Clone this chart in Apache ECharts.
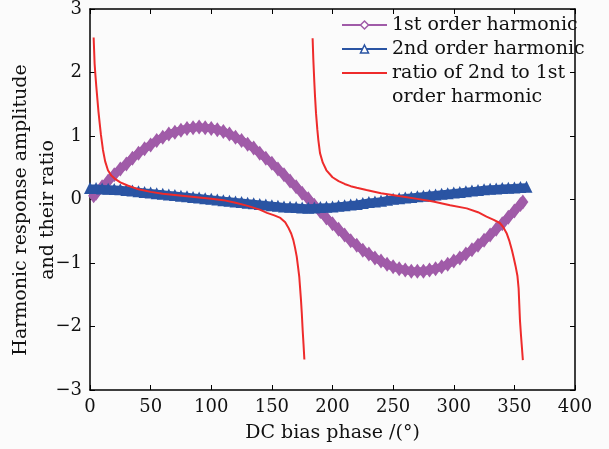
<!DOCTYPE html>
<html>
<head>
<meta charset="utf-8">
<script src="https://cdn.jsdelivr.net/npm/echarts@6/dist/echarts.min.js"></script>
<style>
  html, body { margin: 0; padding: 0; background: #fbfbfb; }
  #chart { width: 609px; height: 449px; }
</style>
</head>
<body>
<div id="chart"></div>
<script>
// tick labels
const xTicks = [0, 50, 100, 150, 200, 250, 300, 350, 400];
const yTicks = [-3, -2, -1, 0, 1, 2, 3];

// 1st order harmonic
const firstPhase = [3, 5, 10, 15, 20, 25, 30, 35, 40, 45, 50, 55, 60, 65, 70, 75, 80, 85, 90, 95,
  100, 105, 110, 115, 120, 125, 130, 135, 140, 145, 150, 155, 160, 165, 170, 175, 180, 185, 190, 195,
  200, 205, 210, 215, 220, 225, 230, 235, 240, 245, 250, 255, 260, 265, 270, 275, 280, 285, 290, 295,
  300, 305, 310, 315, 320, 325, 330, 335, 340, 345, 350, 355, 357];
const firstAmp = [0.06, 0.10, 0.20, 0.29, 0.39, 0.48, 0.56, 0.65, 0.73, 0.80, 0.86, 0.93, 0.98, 1.03, 1.06, 1.09, 1.12, 1.13, 1.14, 1.13,
  1.12, 1.10, 1.07, 1.03, 0.98, 0.93, 0.87, 0.81, 0.73, 0.65, 0.57, 0.48, 0.39, 0.29, 0.20, 0.10, 0.01, -0.09, -0.19, -0.29,
  -0.38, -0.47, -0.56, -0.65, -0.72, -0.80, -0.86, -0.92, -0.97, -1.02, -1.06, -1.09, -1.11, -1.13, -1.13, -1.13, -1.11, -1.09, -1.06, -1.02,
  -0.97, -0.92, -0.86, -0.79, -0.72, -0.64, -0.56, -0.47, -0.38, -0.28, -0.18, -0.08, -0.04];

// 2nd order harmonic
const secondPhase = [0, 5, 10, 15, 20, 25, 30, 35, 40, 45, 50, 55, 60, 65, 70, 75, 80, 85, 90, 95,
  100, 105, 110, 115, 120, 125, 130, 135, 140, 145, 150, 155, 160, 165, 170, 175, 180, 185, 190, 195,
  200, 205, 210, 215, 220, 225, 230, 235, 240, 245, 250, 255, 260, 265, 270, 275, 280, 285, 290, 295,
  300, 305, 310, 315, 320, 325, 330, 335, 340, 345, 350, 355, 360];
const secondAmp = [0.18, 0.18, 0.175, 0.17, 0.165, 0.16, 0.15, 0.14, 0.13, 0.12, 0.11, 0.10, 0.09, 0.08, 0.07, 0.06, 0.05, 0.04, 0.03, 0.02,
  0.01, 0.0, -0.01, -0.02, -0.03, -0.04, -0.05, -0.06, -0.07, -0.08, -0.09, -0.10, -0.11, -0.115, -0.12, -0.125, -0.13, -0.125, -0.12, -0.115,
  -0.11, -0.10, -0.09, -0.08, -0.07, -0.055, -0.04, -0.03, -0.02, -0.005, 0.01, 0.02, 0.03, 0.04, 0.05, 0.06, 0.07, 0.08, 0.09, 0.10,
  0.11, 0.12, 0.13, 0.14, 0.15, 0.16, 0.17, 0.175, 0.18, 0.185, 0.19, 0.195, 0.20];

// ratio of 2nd to 1st, two branches either side of 180
const ratioPhaseA = [3, 3.8, 4.5, 5.2, 6, 7, 8, 9, 10.7, 12.5, 14.8, 17.5, 20.3, 25, 31, 40, 50, 60, 70, 80,
  90, 100, 110, 120, 130, 140, 146, 152, 157, 161, 163.5, 166, 167.7, 169, 170.5, 171.5, 172.6, 173.3, 174, 174.7,
  175.4, 176.1, 176.8];
const ratioA = [2.55, 2.14, 1.95, 1.78, 1.6, 1.38, 1.2, 1.02, 0.78, 0.6, 0.46, 0.38, 0.33, 0.27, 0.22, 0.16, 0.12, 0.09, 0.07, 0.05,
  0.03, 0.01, -0.01, -0.05, -0.1, -0.16, -0.21, -0.25, -0.29, -0.36, -0.44, -0.54, -0.64, -0.75, -0.9, -1.05, -1.22, -1.4, -1.58, -1.8,
  -2.06, -2.28, -2.52];
const ratioPhaseB = [183.6, 184.2, 185, 185.6, 186.4, 187.5, 188.3, 189.7, 192, 195, 200, 205, 210, 215, 220, 228, 240, 256, 270, 283,
  297, 310.7, 320, 327, 333, 338, 341, 343.6, 346, 348, 349.5, 351, 352.5, 353.5, 354.6, 355.5, 356.3, 357];
const ratioB = [2.54, 2.2, 1.85, 1.62, 1.36, 1.1, 0.94, 0.73, 0.58, 0.46, 0.35, 0.29, 0.245, 0.21, 0.185, 0.15, 0.10, 0.05, 0.01, -0.03,
  -0.09, -0.14, -0.2, -0.27, -0.32, -0.37, -0.44, -0.53, -0.66, -0.8, -0.92, -1.05, -1.2, -1.4, -1.9, -2.15, -2.35, -2.53];

const NAME1 = '1st order harmonic';
const NAME2 = '2nd order harmonic';
const NAME3 = 'ratio of 2nd to 1st order harmonic';
const PURPLE = '#a05ba8';
const BLUE = '#2a54a3';
const RED = '#ee2b2b';
const FONT = 'DejaVu Serif';

const pairs = (xs, ys) => xs.map((x, i) => [x, ys[i]]);
const minus = (v) => String(v).replace('-', '\u2212');

const chart = echarts.init(document.getElementById('chart'));

const frameAxis = {
  axisLine: { show: true, onZero: false, lineStyle: { color: '#000', width: 1.5 } },
  axisTick: { show: true, inside: true, length: 5, lineStyle: { color: '#000', width: 1 } },
  splitLine: { show: false },
};

chart.setOption({
  backgroundColor: '#fbfbfb',
  animation: false,
  grid: { left: 90, right: 34, top: 9, bottom: 59, containLabel: false, outerBoundsMode: 'none' },
  legend: [
    {
      data: [
        { name: NAME1, itemStyle: { color: '#fff', borderColor: PURPLE, borderWidth: 1.5 }, lineStyle: { width: 2, color: PURPLE } },
        { name: NAME2, itemStyle: { color: '#fff', borderColor: BLUE, borderWidth: 1.5 }, lineStyle: { width: 2, color: BLUE } },
      ],
      orient: 'vertical', left: 341, top: 13, padding: 0, itemGap: 0,
      itemWidth: 45, itemHeight: 10,
      textStyle: { fontFamily: FONT, fontSize: 19, color: '#111', lineHeight: 24 },
    },
    {
      data: [{
        name: NAME3,
        itemStyle: { color: 'rgba(0,0,0,0)', borderWidth: 0, opacity: 0 },
        lineStyle: { width: 2, color: RED },
      }],
      orient: 'vertical', left: 341, top: 37, padding: 0,
      itemWidth: 45, itemHeight: 10,
      formatter: (name) => ' \n' + name.replace('1st order', '1st\norder'),
      textStyle: { fontFamily: FONT, fontSize: 19, color: '#111', lineHeight: 24 },
    },
  ],
  xAxis: [
    {
      type: 'value', min: xTicks[0], max: xTicks[xTicks.length - 1], interval: 50,
      name: 'DC bias phase /(\u00b0)', nameLocation: 'middle', nameGap: 34, nameMoveOverlap: false,
      nameTextStyle: { fontFamily: FONT, fontSize: 19, color: '#111' },
      axisLabel: { fontFamily: FONT, fontSize: 18, color: '#111', margin: 8 },
      ...frameAxis,
    },
    {
      type: 'value', position: 'top', min: xTicks[0], max: xTicks[xTicks.length - 1], interval: 50,
      axisLabel: { show: false },
      ...frameAxis,
    },
  ],
  yAxis: [
    {
      type: 'value', min: yTicks[0], max: yTicks[yTicks.length - 1], interval: 1,
      name: 'Harmonic response amplitude\nand their ratio', nameLocation: 'middle', nameGap: 28,
      nameRotate: 90, nameMoveOverlap: false,
      nameTextStyle: { fontFamily: FONT, fontSize: 19, color: '#111', lineHeight: 27, padding: [0, 21, 0, 0] },
      axisLabel: { fontFamily: FONT, fontSize: 18, color: '#111', margin: 8, formatter: minus },
      ...frameAxis,
    },
    {
      type: 'value', position: 'right', min: yTicks[0], max: yTicks[yTicks.length - 1], interval: 1,
      axisLabel: { show: false },
      ...frameAxis,
    },
  ],
  series: [
    {
      name: NAME1, type: 'line', data: pairs(firstPhase, firstAmp),
      symbol: 'diamond', symbolSize: [11, 15], showAllSymbol: true,
      itemStyle: { color: PURPLE },
      lineStyle: { color: PURPLE, width: 8 },
      z: 2,
    },
    {
      name: NAME2, type: 'line', data: pairs(secondPhase, secondAmp),
      symbol: 'triangle', symbolSize: 12, showAllSymbol: true,
      itemStyle: { color: BLUE },
      lineStyle: { color: BLUE, width: 7 },
      z: 3,
    },
    {
      name: NAME3, type: 'line', data: pairs(ratioPhaseA, ratioA),
      symbol: 'none', lineStyle: { color: RED, width: 2 }, itemStyle: { color: RED },
      z: 4,
    },
    {
      name: NAME3, type: 'line', data: pairs(ratioPhaseB, ratioB),
      symbol: 'none', lineStyle: { color: RED, width: 2 }, itemStyle: { color: RED },
      z: 4,
    },
  ],
});
</script>
</body>
</html>
